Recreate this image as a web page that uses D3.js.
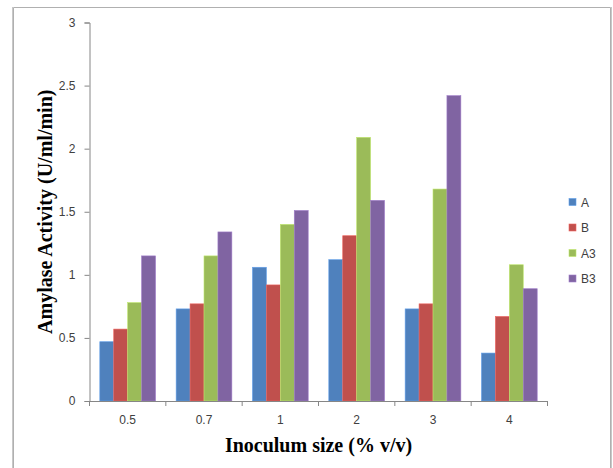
<!DOCTYPE html>
<html>
<head>
<meta charset="utf-8">
<script src="https://cdn.jsdelivr.net/npm/d3@7"></script>
<style>
  body { margin: 0; background: #fff; }
  .tick text { font-family: "Liberation Sans", Arial, sans-serif; font-size: 12px; fill: #404040; }
</style>
</head>
<body>
<div class="chart"></div>
<script>
var categories = ["0.5", "0.7", "1", "2", "3", "4"];
var seriesNames = ["A", "B", "A3", "B3"];
var valuesA  = [0.47, 0.73, 1.06, 1.12, 0.73, 0.38];
var valuesB  = [0.57, 0.77, 0.92, 1.31, 0.77, 0.67];
var valuesA3 = [0.78, 1.15, 1.40, 2.09, 1.68, 1.08];
var valuesB3 = [1.15, 1.34, 1.51, 1.59, 2.42, 0.89];
var yTicks = [0, 0.5, 1, 1.5, 2, 2.5, 3];

var colors = ["#4f81bd", "#c0504d", "#9bbb59", "#8064a2"];
var series = [valuesA, valuesB, valuesA3, valuesB3];

var width = 613, height = 468;
var plot = {left: 89.5, right: 547.5, top: 22.5, bottom: 401};

var svg = d3.select(".chart").append("svg")
  .attr("width", width)
  .attr("height", height);

// outer frame (only left, top, right visible)
svg.append("path")
  .attr("d", "M13.5,468 V7.5 H610.5 V468")
  .attr("fill", "none")
  .attr("stroke", "#b0b0b0")
  .attr("stroke-width", 1);
svg.append("line").attr("x1", 12.5).attr("x2", 12.5).attr("y1", 7).attr("y2", 468)
  .attr("stroke", "#c8c8c8");
svg.append("line").attr("x1", 611.5).attr("x2", 611.5).attr("y1", 7).attr("y2", 468)
  .attr("stroke", "#c8c8c8");

var x = d3.scaleBand()
  .domain(categories)
  .range([plot.left, plot.right])
  .padding(0);

var xSub = d3.scaleBand()
  .domain(d3.range(seriesNames.length))
  .range([x.bandwidth() * 0.135, x.bandwidth() * 0.865])
  .padding(0);

var y = d3.scaleLinear()
  .domain([0, 3])
  .range([plot.bottom, plot.top]);

// bars
var groups = svg.append("g").selectAll("g")
  .data(categories)
  .enter().append("g")
  .attr("transform", d => `translate(${x(d)},0)`);

groups.selectAll("rect")
  .data((d, i) => series.map((s, k) => ({k: k, v: s[i]})))
  .enter().append("rect")
  .attr("x", d => xSub(d.k))
  .attr("width", xSub.bandwidth())
  .attr("y", d => y(d.v))
  .attr("height", d => y(0) - y(d.v))
  .attr("fill", d => colors[d.k])
  .attr("stroke", d => d3.color(colors[d.k]).brighter(0.6))
  .attr("stroke-width", 0.6);

// y axis
var yAxis = svg.append("g")
  .attr("transform", `translate(${plot.left},0)`)
  .call(d3.axisLeft(y).tickValues(yTicks).tickFormat(d3.format("")).tickSizeOuter(0).tickSize(5).tickPadding(9));

// x axis
var xAxis = svg.append("g")
  .attr("transform", `translate(0,${plot.bottom})`)
  .call(d3.axisBottom(x).tickSize(0).tickPadding(14));

xAxis.selectAll(".tick line").remove();
xAxis.selectAll(".tick-mark")
  .data(d3.range(categories.length + 1))
  .enter().append("line")
  .attr("x1", i => plot.left + i * x.step())
  .attr("x2", i => plot.left + i * x.step())
  .attr("y1", 0).attr("y2", 5)
  .attr("stroke", "#868686");

svg.selectAll(".domain").attr("stroke", "#868686");
yAxis.selectAll(".tick line").attr("stroke", "#868686");

// axis titles
svg.append("text")
  .attr("x", (plot.left + plot.right) / 2)
  .attr("y", 452)
  .attr("text-anchor", "middle")
  .attr("font-family", "'Liberation Serif', 'Times New Roman', serif")
  .attr("font-weight", "bold")
  .attr("font-size", 20)
  .text("Inoculum size (% v/v)");

svg.append("text")
  .attr("transform", `translate(52,${(plot.top + plot.bottom) / 2}) rotate(-90)`)
  .attr("text-anchor", "middle")
  .attr("font-family", "'Liberation Serif', 'Times New Roman', serif")
  .attr("font-weight", "bold")
  .attr("font-size", 20)
  .text("Amylase Activity (U/ml/min)");

// legend
var legend = svg.append("g").selectAll("g")
  .data(seriesNames)
  .enter().append("g")
  .attr("transform", (d, i) => `translate(569,${202 + i * 25.5})`);

legend.append("rect")
  .attr("x", 0).attr("y", -3.5)
  .attr("width", 7).attr("height", 7)
  .attr("fill", (d, i) => colors[i])
  .attr("stroke", (d, i) => d3.color(colors[i]).brighter(0.6))
  .attr("stroke-width", 0.6);

legend.append("text")
  .attr("x", 12)
  .attr("y", 4.5)
  .attr("font-family", "'Liberation Sans', Arial, sans-serif")
  .attr("font-size", 12)
  .attr("fill", "#404040")
  .text(d => d);
</script>
</body>
</html>
